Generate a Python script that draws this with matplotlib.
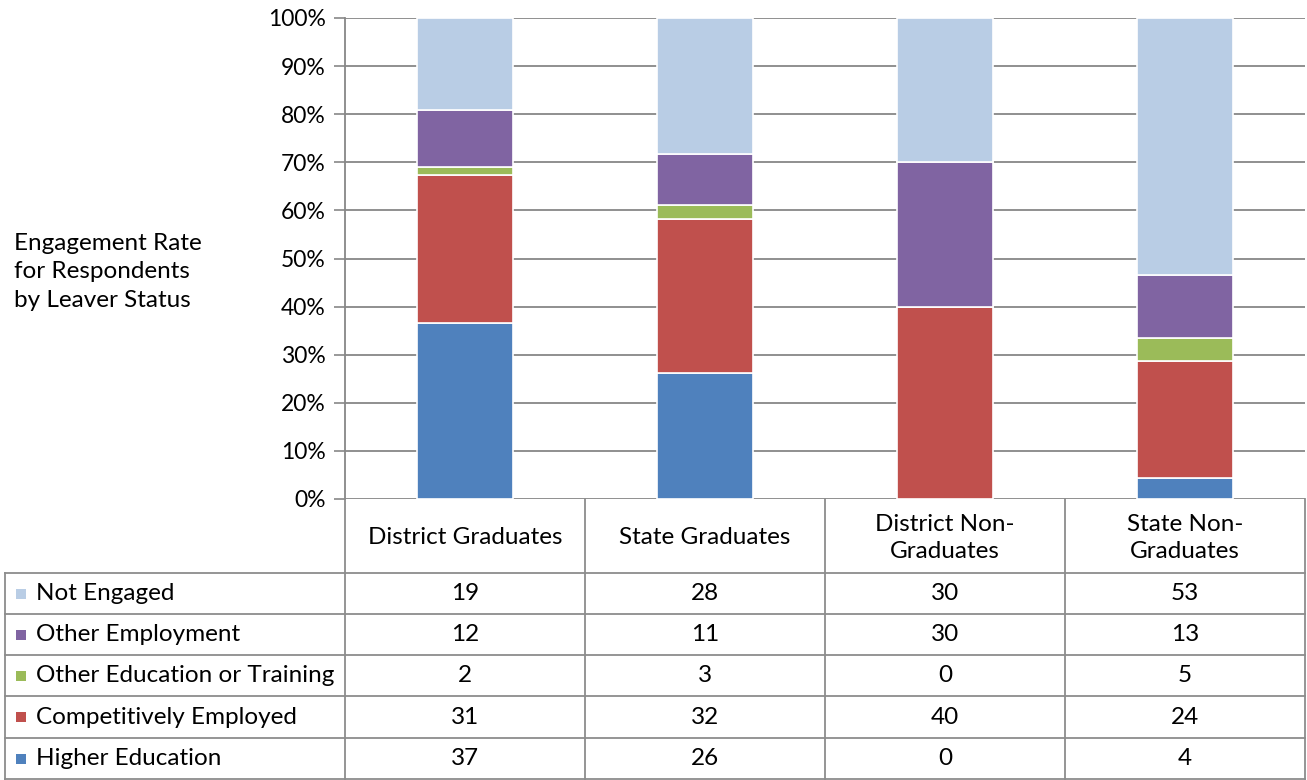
import matplotlib
matplotlib.use("Agg")
import matplotlib.pyplot as plt
import numpy as np

plt.rcParams['font.family'] = ['Lato', 'DejaVu Sans']

categories = ["District Graduates", "State Graduates", "District Non-\nGraduates", "State Non-\nGraduates"]
series_names = ["Higher Education", "Competitively Employed", "Other Education or Training",
                "Other Employment", "Not Engaged"]
higher_education = [36.6, 26.1, 0.0, 4.3]
competitively_employed = [30.8, 32.2, 40.0, 24.3]
other_education = [1.6, 2.9, 0.0, 4.8]
other_employment = [11.8, 10.6, 30.0, 13.2]
not_engaged = [19.2, 28.2, 30.0, 53.4]
colors = ["#4F81BD", "#C0504D", "#9BBB59", "#8064A2", "#B9CDE5"]
y_ticks = [0, 10, 20, 30, 40, 50, 60, 70, 80, 90, 100]
y_label = "Engagement Rate\nfor Respondents\nby Leaver Status"

series = [higher_education, competitively_employed, other_education, other_employment, not_engaged]

W, H = 1307, 780
fig = plt.figure(figsize=(W / 100, H / 100), dpi=100)
FS = 17.5

def fx(px):
    return px / W
def fy(py):
    return 1 - py / H

left_px, right_px, top_px, bot_px = 345, 1305, 18, 499
ax = fig.add_axes([fx(left_px), fy(bot_px), fx(right_px) - fx(left_px), fy(top_px) - fy(bot_px)])

grid_c = "#878787"
x = np.arange(len(categories))
bottom = np.zeros(len(categories))
for vals, c in zip(series, colors):
    v = np.array(vals)
    ax.bar(x, v, 0.4, bottom=bottom, color=c, edgecolor="white", linewidth=1.2, zorder=3)
    bottom += v

ax.set_xlim(-0.5, len(categories) - 0.5)
ax.set_ylim(0, 100)
ax.set_yticks(y_ticks)
ax.set_yticklabels([f"{t}%" for t in y_ticks], fontsize=16.5, color="#000000")
ax.tick_params(axis='y', length=8, width=1.2, color=grid_c, pad=6)
ax.set_xticks([])
ax.yaxis.grid(True, color=grid_c, linewidth=1.3, zorder=0)
ax.set_axisbelow(True)
for s in ["top", "right", "bottom"]:
    ax.spines[s].set_visible(False)
ax.spines["left"].set_color(grid_c)
ax.spines["left"].set_linewidth(1.3)

fig.text(fx(14), fy(272), y_label, fontsize=FS, ha="left", va="center", linespacing=1.42)

tab = fig.add_axes([0, 0, 1, 1])
tab.set_xlim(0, W)
tab.set_ylim(H, 0)
tab.axis("off")

col_edges = [345, 585, 825, 1065, 1305]
row_edges = [573, 614, 655, 696, 738, 779]
lc = "#8C8C8C"
lw = 1.3
tab.plot([col_edges[0], col_edges[0]], [bot_px, row_edges[-1]], color=lc, lw=lw)
for xe in col_edges[1:]:
    tab.plot([xe, xe], [bot_px, row_edges[-1]], color=lc, lw=lw)
tab.plot([5, 5], [row_edges[0], row_edges[-1]], color=lc, lw=lw)
for ye in row_edges:
    tab.plot([5, col_edges[-1]], [ye, ye], color=lc, lw=lw)

for i, cat in enumerate(categories):
    cx = (col_edges[i] + col_edges[i + 1]) / 2
    tab.text(cx, (bot_px + row_edges[0]) / 2 + 2, cat, ha="center", va="center", fontsize=FS,
             linespacing=1.38)

order = list(range(len(series)))[::-1]
for r, si in enumerate(order):
    yc = (row_edges[r] + row_edges[r + 1]) / 2
    tab.add_patch(plt.Rectangle((16, yc - 5), 10, 10, color=colors[si], lw=0))
    tab.text(36, yc, series_names[si], ha="left", va="center", fontsize=FS)
    for i in range(len(categories)):
        cx = (col_edges[i] + col_edges[i + 1]) / 2
        tab.text(cx, yc, f"{round(series[si][i]):d}", ha="center", va="center", fontsize=FS)

fig.savefig("out.png", dpi=100)
